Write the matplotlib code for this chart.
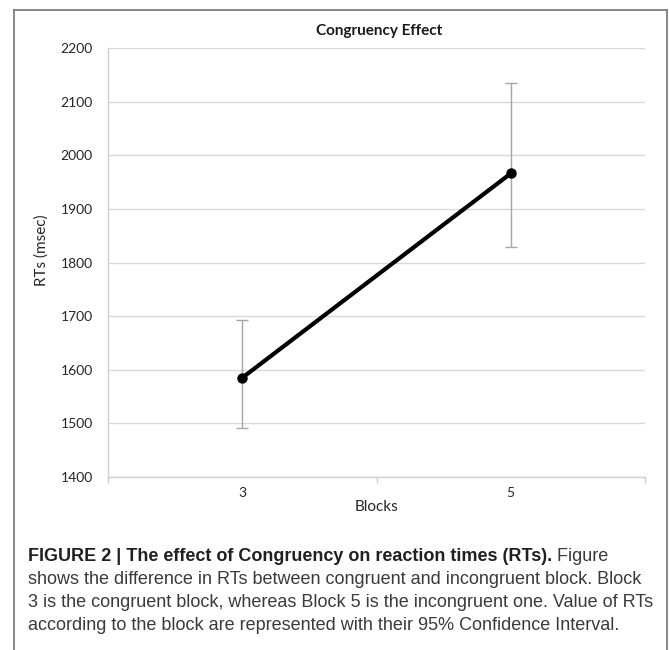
import matplotlib
matplotlib.use("Agg")
import matplotlib.pyplot as plt
from matplotlib.lines import Line2D

# data
blocks = ["3", "5"]
rt_mean = [1585, 1966]
ci_low = [1491, 1829]
ci_high = [1693, 2134]

title = "Congruency Effect"
caption_bold = "FIGURE 2 | The effect of Congruency on reaction times (RTs)."
caption_lines = [
    " Figure",
    "shows the difference in RTs between congruent and incongruent block. Block",
    "3 is the congruent block, whereas Block 5 is the incongruent one. Value of RTs",
    "according to the block are represented with their 95% Confidence Interval.",
]

W, H = 669, 650
fig = plt.figure(figsize=(W / 100, H / 100), dpi=100)
fig.patch.set_facecolor("white")

def fx(px):
    return px / W

def fy(py):
    return 1 - py / H

CHART = "Lato"
ax = fig.add_axes([fx(108), fy(477), fx(645) - fx(108), fy(48) - fy(477)])

xs = [i + 0.5 for i in range(len(blocks))]
yerr = [[m - lo for m, lo in zip(rt_mean, ci_low)],
        [hi - m for m, hi in zip(rt_mean, ci_high)]]
ax.errorbar(xs, rt_mean, yerr=yerr, fmt="none", ecolor="#a6a6a6",
            elinewidth=1.0, capsize=4.5, capthick=1.0, zorder=2)
ax.plot(xs, rt_mean, color="black", linewidth=3.0, marker="o",
        markersize=6.5, zorder=3)

ax.set_xlim(0, len(blocks))
ax.set_ylim(1400, 2200)
ax.set_yticks(range(1400, 2201, 100))
ax.set_xticks(xs)
ax.set_xticklabels(blocks)
ax.set_xticks(range(len(blocks) + 1), minor=True)
ax.tick_params(axis="x", which="major", length=0, pad=7,
               labelsize=10, labelcolor="#262626")
ax.tick_params(axis="x", which="minor", length=4, width=1, color="#d0d0d0",
               direction="out")
ax.tick_params(axis="y", length=0, pad=11, labelsize=10, labelcolor="#262626")
for lab in ax.get_xticklabels() + ax.get_yticklabels():
    lab.set_fontfamily(CHART)

ax.grid(axis="y", color="#d9d9d9", linewidth=1.0)
ax.set_axisbelow(True)
for side in ("top", "right"):
    ax.spines[side].set_visible(False)
ax.spines["left"].set_color("#d0d0d0")
ax.spines["bottom"].set_color("#d0d0d0")
ax.spines["left"].set_linewidth(1.0)
ax.spines["bottom"].set_linewidth(1.0)

fig.text(fx(379), fy(31), title, ha="center", va="center",
         fontfamily=CHART, fontweight="bold", fontsize=11, color="#1a1a1a")
fig.text(fx(42), fy(250), "RTs (msec)", rotation=90, ha="center", va="center",
         fontfamily=CHART, fontsize=11, color="#262626")
fig.text(fx(376), fy(507), "Blocks", ha="center", va="center",
         fontfamily=CHART, fontsize=11, color="#262626")

# frame around chart + caption (open at the bottom)
frame = dict(color="#7f7f7f", linewidth=1.3, transform=fig.transFigure)
fig.add_artist(Line2D([fx(14), fx(14)], [fy(10), 0], **frame))
fig.add_artist(Line2D([fx(14), fx(667)], [fy(10), fy(10)], **frame))
fig.add_artist(Line2D([fx(667), fx(667)], [fy(10), 0], **frame))

# caption: fit the font size so the long line spans the caption width
CAP = "Liberation Sans"
fig.canvas.draw()
r = fig.canvas.get_renderer()
probe = fig.text(0, 0, caption_lines[1], fontfamily=CAP, fontsize=12)
size = 12 * 616 / probe.get_window_extent(r).width
probe.remove()

baselines = [561, 584, 607, 630]
b = fig.text(fx(28), fy(baselines[0]), caption_bold, fontfamily=CAP,
             fontsize=size, fontweight="bold", color="#231f20", va="baseline")
bx = b.get_window_extent(r).x1
fig.text(bx / W, fy(baselines[0]), caption_lines[0], fontfamily=CAP,
         fontsize=size, color="#3a3a3a", va="baseline")
for line, yb in zip(caption_lines[1:], baselines[1:]):
    fig.text(fx(28), fy(yb), line, fontfamily=CAP, fontsize=size,
             color="#3a3a3a", va="baseline")

fig.savefig("out.png", dpi=100, facecolor="white")
